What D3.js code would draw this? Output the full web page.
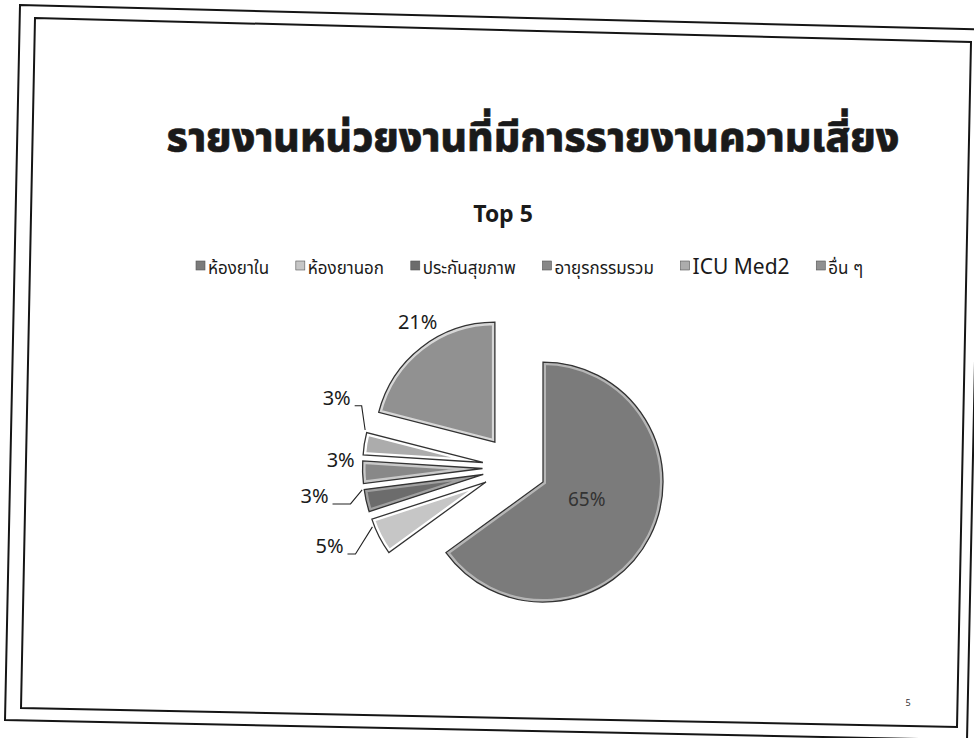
<!DOCTYPE html>
<html>
<head>
<meta charset="utf-8">
<script src="https://cdn.jsdelivr.net/npm/d3@7"></script>
<style>
  body { margin: 0; background: #fff; }
  text { font-family: "Noto Sans Thai", "Noto Sans", "DejaVu Sans", sans-serif; }
</style>
</head>
<body>
<svg id="chart" width="974" height="738"></svg>
<script>
// --- data ---
const slideTitle = "รายงานหน่วยงานที่มีการรายงานความเสี่ยง";
const chartTitle = "Top 5";
const units = ["ห้องยาใน", "ห้องยานอก", "ประกันสุขภาพ", "อายุรกรรมรวม", "ICU Med2", "อื่น ๆ"];
const shares = [65, 5, 3, 3, 3, 21];
const pageNo = "5";

// --- styling ---
const fills = ["#7b7b7b", "#c6c6c6", "#6c6c6c", "#888888", "#acacac", "#919191"];
const labelRadius = [79, 201, 202, 174, 191, 175];
const labelShift = [-3, 4, 4.5, 4.3, 12.4, 4.2]; // degrees off the slice middle
const leaderAt = [null, 0.74, 0.89, null, 0.97, null]; // where the leader touches the slice
const leaderElbow = [null, 26, 36, null, 25, null];

const width = 974, height = 738;
const R = 120, EXPLODE = 32;
const cx = 514.5, cy = 467.5;

const svg = d3.select("#chart");
const deg = Math.PI / 180;
const polar = (a, r) => [Math.sin(a) * r, -Math.cos(a) * r];

// scanned page frames (slightly skewed)
const frame = d3.line();
svg.append("path")
  .attr("d", frame([[20, 5], [982, 29.5], [967, 740], [5, 720]]) + "Z")
  .attr("fill", "none").attr("stroke", "#151515").attr("stroke-width", 2);
svg.append("path")
  .attr("d", frame([[35, 18], [971, 42], [957, 727], [21, 708]]) + "Z")
  .attr("fill", "none").attr("stroke", "#151515").attr("stroke-width", 2);

// slide title, fitted to its width on the slide
const titleEl = svg.append("text")
  .attr("x", 533).attr("y", 151)
  .attr("text-anchor", "middle")
  .attr("font-size", 40).attr("font-weight", 800)
  .attr("fill", "#1a1a1a")
  .attr("stroke", "#1a1a1a").attr("stroke-width", 0.6)
  .text(slideTitle);
const tw = titleEl.node().getComputedTextLength();
titleEl.attr("font-size", 40 * 733 / tw);

svg.append("text")
  .attr("x", 503).attr("y", 222)
  .attr("text-anchor", "middle")
  .attr("font-size", 23).attr("font-weight", "bold")
  .attr("fill", "#1a1a1a")
  .text(chartTitle);

// legend
const isThai = s => /[\u0E00-\u0E7F]/.test(s);
const legend = svg.append("g").attr("transform", "translate(196,0)");
const items = legend.selectAll("g").data(units).join("g");
items.append("rect")
  .attr("y", 261).attr("width", 9).attr("height", 9)
  .attr("fill", (d, i) => fills[i])
  .attr("stroke", "#555").attr("stroke-width", 0.6);
items.append("text")
  .attr("x", 12).attr("y", 274)
  .attr("font-size", d => isThai(d) ? 17 : 21)
  .attr("fill", "#1a1a1a")
  .text(d => d);
const widths = items.nodes().map(n => 12 + d3.select(n).select("text").node().getComputedTextLength());
const gap = (667 - d3.sum(widths)) / (units.length - 1);
let lx = 0;
items.attr("transform", (d, i) => { const t = `translate(${lx},0)`; lx += widths[i] + gap; return t; });

// pie
const arcs = d3.pie().sort(null).value(d => d)(shares);
const arc = d3.arc().innerRadius(0).outerRadius(R);
const pieG = svg.append("g").attr("transform", `translate(${cx},${cy})`);
const defs = svg.append("defs");

const slices = pieG.selectAll("g.slice").data(arcs).join("g")
  .attr("class", "slice")
  .attr("transform", d => {
    const [x, y] = polar((d.startAngle + d.endAngle) / 2, EXPLODE);
    return `translate(${x},${y})`;
  });

slices.each(function(d, i) {
  defs.append("clipPath").attr("id", "clip" + i).append("path").attr("d", arc(d));
});
slices.append("path")
  .attr("d", arc)
  .attr("fill", (d, i) => fills[i]);
// light bevel along the inside of each slice
slices.append("path")
  .attr("d", arc)
  .attr("fill", "none")
  .attr("clip-path", (d, i) => `url(#clip${i})`)
  .attr("stroke", (d, i) => d3.color(fills[i]).brighter(1.1))
  .attr("stroke-width", 6);
slices.append("path")
  .attr("d", arc)
  .attr("fill", "none")
  .attr("stroke", "#333")
  .attr("stroke-width", 1.3);

// data labels
const labelPos = arcs.map((d, i) =>
  polar((d.startAngle + d.endAngle) / 2 + labelShift[i] * deg, labelRadius[i]));

pieG.selectAll("text.lbl").data(arcs).join("text")
  .attr("class", "lbl")
  .attr("x", (d, i) => labelPos[i][0])
  .attr("y", (d, i) => labelPos[i][1])
  .attr("dy", "0.36em")
  .attr("text-anchor", "middle")
  .attr("font-size", (d, i) => i === 0 ? 19 : 20)
  .attr("fill", (d, i) => i === 0 ? "#333" : "#1a1a1a")
  .text(d => d.data + "%");

// leader lines
const leaders = arcs.filter((d, i) => leaderAt[i] !== null);
pieG.selectAll("path.leader").data(leaders).join("path")
  .attr("class", "leader")
  .attr("fill", "none")
  .attr("stroke", "#222")
  .attr("stroke-width", 1.1)
  .attr("d", d => {
    const i = d.index;
    const [lx0, ly0] = labelPos[i];
    const a = d.startAngle + (d.endAngle - d.startAngle) * leaderAt[i];
    const [ex, ey] = polar(a, R + EXPLODE + 2);
    return d3.line()([[lx0 + 18, ly0 + 8], [lx0 + leaderElbow[i], ly0 + 8], [ex, ey]]);
  });

svg.append("text")
  .attr("x", 908).attr("y", 706)
  .attr("text-anchor", "middle")
  .attr("font-size", 9)
  .attr("fill", "#333")
  .text(pageNo);
</script>
</body>
</html>
